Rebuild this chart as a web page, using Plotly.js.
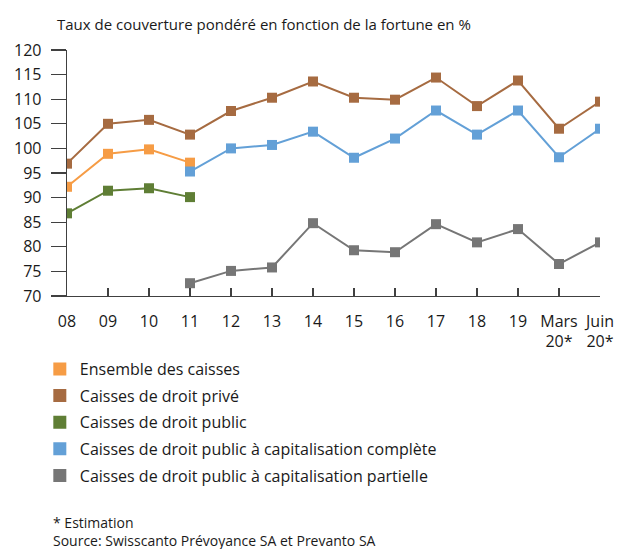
<!DOCTYPE html>
<html>
<head>
<meta charset="utf-8">
<script src="https://cdn.plot.ly/plotly-3.0.1.min.js"></script>
<style>
  html, body { margin: 0; padding: 0; background: #fff; }
  #chart { width: 617px; height: 549px; }
</style>
</head>
<body>
<div id="chart"></div>
<script>
// années (les deux dernières sont des estimations)
var periodes = ['08', '09', '10', '11', '12', '13', '14', '15', '16', '17', '18', '19', 'Mars<br>20*', 'Juin<br>20*'];

var ensemble       = [92.2, 98.9, 99.8, 97.1, null, null, null, null, null, null, null, null, null, null];
var droitPrive     = [96.9, 105.0, 105.8, 102.8, 107.6, 110.3, 113.6, 110.3, 109.9, 114.4, 108.6, 113.8, 104.0, 109.5];
var droitPublic    = [86.8, 91.4, 91.9, 90.1, null, null, null, null, null, null, null, null, null, null];
var capComplete    = [null, null, null, 95.3, 100.0, 100.7, 103.4, 98.1, 102.0, 107.7, 102.8, 107.7, 98.2, 104.0];
var capPartielle   = [null, null, null, 72.6, 75.1, 75.8, 84.8, 79.3, 78.9, 84.6, 80.9, 83.6, 76.5, 80.9];

var noms = ['Ensemble des caisses', 'Caisses de droit privé', 'Caisses de droit public',
            'Caisses de droit public à capitalisation complète', 'Caisses de droit public à capitalisation partielle'];
var series = [ensemble, droitPrive, droitPublic, capComplete, capPartielle];
var couleurs = ['#F69C45', '#A66B41', '#5F7E35', '#63A0D7', '#767676'];

var data = [];
// courbes
series.forEach(function(s, i) {
    data.push({
        x: periodes,
        y: s,
        type: 'scatter',
        mode: 'lines+markers',
        line: {color: couleurs[i], width: 2},
        marker: {color: couleurs[i], symbol: 'square', size: 10},
        connectgaps: false,
        showlegend: false,
        hoverinfo: 'skip'
    });
});
// légende : carrés seuls
series.forEach(function(s, i) {
    data.push({
        x: [null],
        y: [null],
        type: 'scatter',
        mode: 'markers',
        name: noms[i],
        legendgroup: 'g' + i,
        marker: {color: couleurs[i], symbol: 'square', size: 13}
    });
});

var police = '"Open Sans", sans-serif';
var layout = {
    width: 617,
    height: 549,
    margin: {l: 67, r: 17, t: 50, b: 253},
    paper_bgcolor: '#fff',
    plot_bgcolor: '#fff',
    font: {family: police, size: 16, color: '#1a1a1a'},
    title: {
        text: 'Taux de couverture pondéré en fonction de la fortune en %',
        font: {family: police, size: 15, color: '#1a1a1a'},
        xref: 'container', yref: 'container',
        x: 57 / 617, xanchor: 'left',
        y: 1 - 25 / 549, yanchor: 'middle'
    },
    xaxis: {
        type: 'category',
        range: [0, 13],
        showgrid: false,
        zeroline: false,
        showline: true,
        linecolor: '#404040',
        linewidth: 1.3,
        ticks: 'inside',
        ticklen: 8,
        tickcolor: '#404040',
        tickwidth: 1.3,
        ticklabelstandoff: 10,
        tickfont: {size: 16}
    },
    yaxis: {
        range: [70, 120],
        dtick: 5,
        tick0: 70,
        showgrid: false,
        zeroline: false,
        showline: true,
        linecolor: '#404040',
        linewidth: 1.3,
        ticks: 'outside',
        ticklen: 15,
        tickcolor: '#404040',
        tickwidth: 1.3,
        ticklabelstandoff: 6,
        tickfont: {size: 16}
    },
    legend: {
        x: -0.051, xanchor: 'left',
        y: -0.228, yanchor: 'top',
        font: {family: police, size: 16, color: '#1a1a1a'},
        tracegroupgap: 2.8,
        itemwidth: 30,
        bgcolor: 'rgba(0,0,0,0)'
    },
    annotations: [
        {text: '* Estimation', xref: 'paper', yref: 'paper', x: -0.03, y: -0.92,
         xanchor: 'left', yanchor: 'middle', showarrow: false, font: {size: 14}},
        {text: 'Source: Swisscanto Prévoyance SA et Prevanto SA', xref: 'paper', yref: 'paper', x: -0.03, y: -0.995,
         xanchor: 'left', yanchor: 'middle', showarrow: false, font: {size: 14}}
    ]
};

Plotly.newPlot('chart', data, layout, {displayModeBar: false, staticPlot: true});
</script>
</body>
</html>
